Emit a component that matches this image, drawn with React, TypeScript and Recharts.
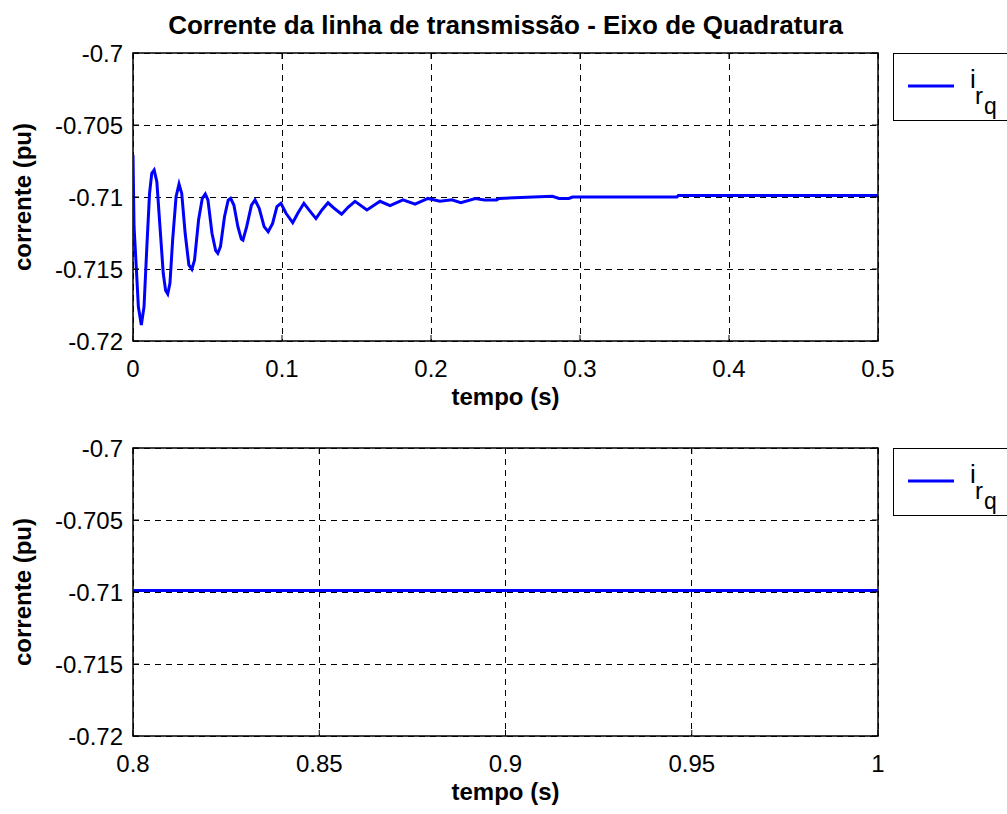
import React from "react";
import { LineChart, Line, XAxis, YAxis, CartesianGrid, ReferenceArea } from "recharts";

// valores (corrente i_rq em pu)
const topTime = [
  0, 0.0007, 0.0023, 0.0036, 0.0056, 0.0074, 0.0093, 0.0111, 0.0126, 0.0142,
  0.016, 0.0181, 0.0203, 0.0219, 0.0233, 0.0248, 0.0266, 0.0289, 0.0309, 0.0327,
  0.035, 0.0375, 0.0395, 0.0413, 0.044, 0.0465, 0.0485, 0.0503, 0.053, 0.0555,
  0.0569, 0.0587, 0.0614, 0.0639, 0.0655, 0.0677, 0.0704, 0.0727, 0.0738, 0.0763,
  0.0795, 0.0819, 0.0847, 0.088, 0.0907, 0.0937, 0.0966, 0.0993, 0.1027, 0.1072,
  0.1106, 0.1147, 0.1185, 0.1228, 0.1268, 0.1309, 0.1352, 0.14, 0.1445, 0.149,
  0.157, 0.1658, 0.1725, 0.1812, 0.1893, 0.198, 0.206, 0.214, 0.22, 0.2297,
  0.236, 0.244, 0.2457, 0.2814, 0.286, 0.2925, 0.295, 0.365, 0.366, 0.5,
];
const topCurrent = [
  -0.70708, -0.71206, -0.71507, -0.71762, -0.71889, -0.71762, -0.71345, -0.70975, -0.70836, -0.70813,
  -0.70894, -0.71206, -0.7153, -0.7165, -0.71674, -0.716, -0.71299, -0.70998, -0.7091, -0.70975,
  -0.71252, -0.71472, -0.71502, -0.71438, -0.7116, -0.71009, -0.70979, -0.71021, -0.71252, -0.71373,
  -0.71391, -0.71345, -0.71137, -0.71021, -0.71009, -0.71056, -0.71206, -0.71292, -0.71299, -0.71206,
  -0.71056, -0.71021, -0.71079, -0.71206, -0.71241, -0.71183, -0.71067, -0.71044, -0.71113, -0.71178,
  -0.71113, -0.71044, -0.71095, -0.7115, -0.7109, -0.7104, -0.7108, -0.7112, -0.7107, -0.7103,
  -0.7109, -0.7103, -0.7106, -0.7102, -0.7105, -0.7101, -0.7103, -0.7102, -0.7104, -0.7101,
  -0.7102, -0.7102, -0.7101, -0.70995, -0.7101, -0.7101, -0.71, -0.71, -0.7099, -0.7099,
];
const bottomTime = [0.8, 0.85, 0.9, 0.95, 1];
const bottomCurrent = [-0.7099, -0.7099, -0.7099, -0.7099, -0.7099];

const topXTicks = [0, 0.1, 0.2, 0.3, 0.4, 0.5];
const bottomXTicks = [0.8, 0.85, 0.9, 0.95, 1];
const yTicks = [-0.72, -0.715, -0.71, -0.705, -0.7];

const TITLE = "Corrente da linha de transmissão - Eixo de Quadratura";
const X_LABEL = "tempo (s)";
const Y_LABEL = "corrente (pu)";

const FONT = "'Liberation Sans', Arial, Helvetica, sans-serif";
const W = 1007;
const PANEL_H = 420;
const PLOT_LEFT = 133;
const PLOT_RIGHT = 878;
const PLOT_TOP = 53;
const PLOT_BOTTOM = 341;
const TICK_LEN = 6;

const topData = topTime.map((t, i) => ({ t, v: topCurrent[i] }));
const bottomData = bottomTime.map((t, i) => ({ t, v: bottomCurrent[i] }));

const YTick = ({ y, payload }: any) => (
  <g>
    <line x1={PLOT_LEFT} x2={PLOT_LEFT + TICK_LEN} y1={y} y2={y} stroke="#000" />
    <line x1={PLOT_RIGHT - TICK_LEN} x2={PLOT_RIGHT} y1={y} y2={y} stroke="#000" />
    <text x={PLOT_LEFT - 10} y={y + 8.5} textAnchor="end" fontSize={24} fontFamily={FONT} fill="#000">
      {String(payload.value)}
    </text>
  </g>
);

const XTick = ({ x, payload }: any) => (
  <g>
    <line x1={x} x2={x} y1={PLOT_BOTTOM} y2={PLOT_BOTTOM - TICK_LEN} stroke="#000" />
    <line x1={x} x2={x} y1={PLOT_TOP} y2={PLOT_TOP + TICK_LEN} stroke="#000" />
    <text x={x} y={PLOT_BOTTOM + 36} textAnchor="middle" fontSize={24} fontFamily={FONT} fill="#000">
      {String(payload.value)}
    </text>
  </g>
);

function LegendBox() {
  return (
    <div
      style={{
        position: "absolute",
        left: 893,
        top: PLOT_TOP,
        width: 140,
        height: 66,
        border: "1.5px solid #000",
        background: "#fff",
      }}
    >
      <svg width={140} height={66} style={{ display: "block" }}>
        <line x1={14} x2={60} y1={32} y2={32} stroke="#0000ff" strokeWidth={3} />
        <text x={76} y={34} fontSize={26} fontFamily={FONT} fill="#000">i</text>
        <text x={81} y={50} fontSize={24} fontFamily={FONT} fill="#000">r</text>
        <text x={90} y={60} fontSize={23} fontFamily={FONT} fill="#000">q</text>
      </svg>
    </div>
  );
}

function Panel({ top, data, xDomain, xTicks, title }: any) {
  const midX = (PLOT_LEFT + PLOT_RIGHT) / 2;
  const midY = (PLOT_TOP + PLOT_BOTTOM) / 2;
  return (
    <div style={{ position: "absolute", left: 0, top, width: W, height: PANEL_H }}>
      <LineChart
        width={W}
        height={PANEL_H}
        data={data}
        margin={{ top: PLOT_TOP, right: W - PLOT_RIGHT, left: 0, bottom: 0 }}
      >
        <CartesianGrid stroke="#000" strokeDasharray="6 5" strokeWidth={1} shapeRendering="crispEdges" />
        <XAxis
          dataKey="t"
          type="number"
          domain={xDomain}
          ticks={xTicks}
          interval={0}
          allowDataOverflow
          height={PANEL_H - PLOT_BOTTOM}
          axisLine={false}
          tickLine={false}
          tick={<XTick />}
        />
        <YAxis
          type="number"
          domain={[-0.72, -0.7]}
          ticks={yTicks}
          interval={0}
          allowDataOverflow
          width={PLOT_LEFT}
          axisLine={false}
          tickLine={false}
          tick={<YTick />}
        />
        <Line
          type="linear"
          dataKey="v"
          stroke="#0000ff"
          strokeWidth={3}
          dot={false}
          isAnimationActive={false}
        />
        <ReferenceArea
          x1={xDomain[0]}
          x2={xDomain[1]}
          y1={-0.72}
          y2={-0.7}
          fill="none"
          stroke="#000"
          strokeWidth={1.5}
          ifOverflow="visible"
        />
      </LineChart>
      <svg
        width={W}
        height={PANEL_H}
        style={{ position: "absolute", left: 0, top: 0, pointerEvents: "none" }}
      >
        {title && (
          <text x={midX} y={34} textAnchor="middle" fontSize={26} fontWeight="bold" fontFamily={FONT} fill="#000">
            {title}
          </text>
        )}
        <text x={midX} y={PLOT_BOTTOM + 64} textAnchor="middle" fontSize={24} fontWeight="bold" fontFamily={FONT} fill="#000">
          {X_LABEL}
        </text>
        <text
          x={31}
          y={midY}
          textAnchor="middle"
          fontSize={24}
          fontWeight="bold"
          fontFamily={FONT}
          fill="#000"
          transform={`rotate(-90 31 ${midY})`}
        >
          {Y_LABEL}
        </text>
      </svg>
      <LegendBox />
    </div>
  );
}

export default function App() {
  return (
    <div
      style={{
        position: "absolute",
        left: 0,
        top: 0,
        width: W,
        height: 814,
        overflow: "hidden",
        background: "#fff",
      }}
    >
      <Panel top={0} data={topData} xDomain={[0, 0.5]} xTicks={topXTicks} title={TITLE} />
      <Panel top={395} data={bottomData} xDomain={[0.8, 1]} xTicks={bottomXTicks} />
    </div>
  );
}
